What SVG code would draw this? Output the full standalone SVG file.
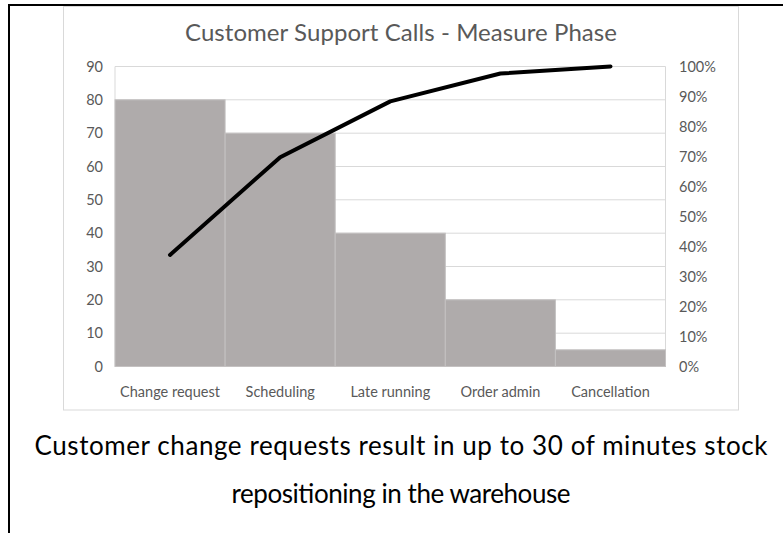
<svg xmlns="http://www.w3.org/2000/svg" width="783" height="533" viewBox="0 0 783 533">
  <style>
    .axis { font-family: Lato, "Open Sans", "Liberation Sans", sans-serif; font-size: 14.5px; fill: #595959; }
    .grid { stroke: #D9D9D9; stroke-width: 1; }
    .bar { fill: #AFABAB; stroke: #C4C1C1; stroke-width: 1; }
    .caption { font-family: Lato, "Open Sans", "Liberation Sans", sans-serif; font-size: 26px; fill: #000000; text-anchor: middle; }
  </style>

  <rect x="0" y="0" width="783" height="533" fill="#FFFFFF"/>

  <!-- cell border (top and left) -->
  <g id="frame" stroke="#000000" stroke-width="2" fill="none">
    <line x1="8" y1="5" x2="783" y2="5"/>
    <line x1="9" y1="4" x2="9" y2="533"/>
  </g>

  <!-- chart area -->
  <g id="chart">
    <rect x="63.5" y="6.5" width="675" height="403.5" fill="#FFFFFF" stroke="#D9D9D9" stroke-width="1"/>
    <text x="401" y="41" text-anchor="middle" font-family="Lato, 'Open Sans', 'Liberation Sans', sans-serif" font-size="24px" fill="#595959" textLength="432">Customer Support Calls - Measure Phase</text>
  </g>

  <!-- gridlines -->
  <g id="gridlines" class="grid">
    <line x1="115" y1="66.5" x2="665.5" y2="66.5"/>
    <line x1="115" y1="99.8" x2="665.5" y2="99.8"/>
    <line x1="115" y1="133.2" x2="665.5" y2="133.2"/>
    <line x1="115" y1="166.5" x2="665.5" y2="166.5"/>
    <line x1="115" y1="199.8" x2="665.5" y2="199.8"/>
    <line x1="115" y1="233.2" x2="665.5" y2="233.2"/>
    <line x1="115" y1="266.5" x2="665.5" y2="266.5"/>
    <line x1="115" y1="299.8" x2="665.5" y2="299.8"/>
    <line x1="115" y1="333.2" x2="665.5" y2="333.2"/>
    <line x1="115" y1="366.5" x2="665.5" y2="366.5"/>
    <line x1="115" y1="66.5" x2="115" y2="366.5"/>
    <line x1="665.5" y1="66.5" x2="665.5" y2="366.5"/>
  </g>

  <!-- bars -->
  <g id="bars">
    <rect id="bar-change-request" class="bar" x="115" y="99.8" width="110.1" height="266.7"/>
    <rect id="bar-scheduling" class="bar" x="225.1" y="133.2" width="110.1" height="233.3"/>
    <rect id="bar-late-running" class="bar" x="335.2" y="233.2" width="110.1" height="133.3"/>
    <rect id="bar-order-admin" class="bar" x="445.3" y="299.8" width="110.1" height="66.7"/>
    <rect id="bar-cancellation" class="bar" x="555.4" y="349.8" width="110.1" height="16.7"/>
  </g>

  <!-- cumulative percentage line -->
  <g id="connectors">
    <polyline points="170,254.9 280.2,157.2 390.3,101.4 500.4,73.5 610.5,66.5" fill="none" stroke="#000000" stroke-width="4" stroke-linejoin="round" stroke-linecap="round"/>
  </g>

  <!-- left value axis -->
  <g id="axis-left" class="axis" text-anchor="end">
    <text x="103" y="71.5">90</text>
    <text x="103" y="104.8">80</text>
    <text x="103" y="138.2">70</text>
    <text x="103" y="171.5">60</text>
    <text x="103" y="204.8">50</text>
    <text x="103" y="238.2">40</text>
    <text x="103" y="271.5">30</text>
    <text x="103" y="304.8">20</text>
    <text x="103" y="338.2">10</text>
    <text x="103" y="371.5">0</text>
  </g>

  <!-- right percentage axis -->
  <g id="axis-right" class="axis" text-anchor="start">
    <text x="679" y="71.5">100%</text>
    <text x="679" y="101.5">90%</text>
    <text x="679" y="131.5">80%</text>
    <text x="679" y="161.5">70%</text>
    <text x="679" y="191.5">60%</text>
    <text x="679" y="221.5">50%</text>
    <text x="679" y="251.5">40%</text>
    <text x="679" y="281.5">30%</text>
    <text x="679" y="311.5">20%</text>
    <text x="679" y="341.5">10%</text>
    <text x="679" y="371.5">0%</text>
  </g>

  <!-- category axis -->
  <g id="axis-categories" class="axis" text-anchor="middle">
    <text x="170" y="397">Change request</text>
    <text x="280.2" y="397">Scheduling</text>
    <text x="390.3" y="397">Late running</text>
    <text x="500.4" y="397">Order admin</text>
    <text x="610.5" y="397">Cancellation</text>
  </g>

  <!-- caption -->
  <g id="caption">
    <text class="caption" x="401" y="455" textLength="733">Customer change requests result in up to 30 of minutes stock</text>
    <text class="caption" x="401" y="503" textLength="339">repositioning in the warehouse</text>
  </g>
</svg>
